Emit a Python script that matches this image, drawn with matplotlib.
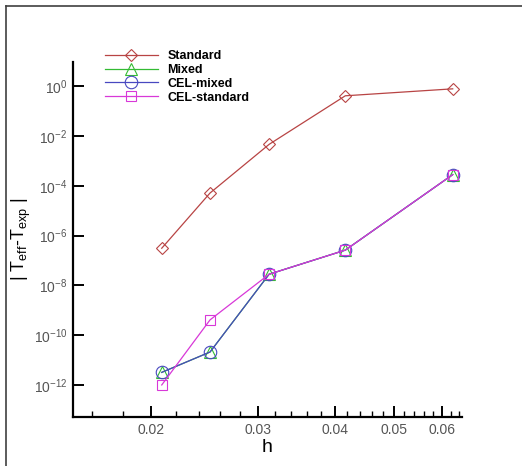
import matplotlib

matplotlib.use("Agg")
import matplotlib.pyplot as plt
from matplotlib.lines import Line2D
from matplotlib.ticker import FixedLocator, NullLocator

plt.rcParams["font.family"] = ["Liberation Sans", "DejaVu Sans"]
plt.rcParams["mathtext.fontset"] = "custom"
plt.rcParams["mathtext.rm"] = "Liberation Sans"
plt.rcParams["mathtext.it"] = "Liberation Sans"

# grid spacing h = 1/48, 1/40, 1/32, 1/24, 1/16
h = [1 / 48, 1 / 40, 1 / 32, 1 / 24, 1 / 16]

err_standard = [3.1e-7, 5.1e-5, 4.6e-3, 0.41, 0.78]
err_mixed = [3.2e-12, 2.1e-11, 2.8e-8, 2.6e-7, 2.8e-4]
err_cel_mixed = [3.2e-12, 2.1e-11, 2.8e-8, 2.6e-7, 2.8e-4]
err_cel_standard = [1.0e-12, 4.1e-10, 2.8e-8, 2.6e-7, 2.8e-4]

x_major = [0.02, 0.03, 0.04, 0.05, 0.06]
x_labels = ["0.02", "0.03", "0.04", "0.05", "0.06"]
x_minor = [i / 1000 for i in range(16, 66, 2) if i % 10 != 0]
y_exps = [0, -2, -4, -6, -8, -10, -12]

RED = "#B84444"
GREEN = "#33BB33"
BLUE = "#4848C0"
MAGENTA = "#D838D8"
TICK_GRAY = "#555555"

fig = plt.figure(figsize=(5.22, 4.66), dpi=100)
ax = fig.add_axes([0.1398, 0.105, 0.745, 0.7625])

ax.plot(h, err_standard, color=RED, lw=0.9, marker="D", ms=6.5, mfc="none",
        mec=RED, mew=0.8, label="Standard")
ax.plot(h, err_mixed, color=GREEN, lw=0.9, marker="^", ms=8, mfc="none",
        mec=GREEN, mew=0.8, label="Mixed")
ax.plot(h, err_cel_mixed, color=BLUE, lw=0.9, marker="o", ms=9, mfc="none",
        mec=BLUE, mew=0.8, label="CEL-mixed")
ax.plot(h, err_cel_standard, color=MAGENTA, lw=0.9, marker="s", ms=6.5, mfc="none",
        mec=MAGENTA, mew=0.8, label="CEL-standard")

ax.set_xscale("log")
ax.set_yscale("log")
ax.set_xlim(0.0149, 0.0647)
ax.set_ylim(10 ** -13.29, 10 ** 0.98)

ax.xaxis.set_major_locator(FixedLocator(x_major))
ax.xaxis.set_minor_locator(FixedLocator(x_minor))
ax.set_xticklabels(x_labels)
ax.xaxis.set_minor_formatter(plt.NullFormatter())

ax.set_yticks([10.0 ** e for e in y_exps])
ax.set_yticklabels([r"$10^{%d}$" % e for e in y_exps])
ax.yaxis.set_minor_locator(NullLocator())

for side in ("top", "right"):
    ax.spines[side].set_visible(False)
for side in ("left", "bottom"):
    ax.spines[side].set_linewidth(1.6)

ax.tick_params(which="major", direction="in", length=8, width=1.4,
               labelsize=10, labelcolor=TICK_GRAY, pad=4)
ax.tick_params(which="minor", direction="in", length=4, width=1.0)

ax.set_xlabel("h", fontsize=14, labelpad=2)
ax.set_ylabel(r"| T$_{eff}$-T$_{exp}$ |", fontsize=13)
ax.yaxis.set_label_coords(-0.103, 0.5)

leg = ax.legend(loc="upper left", bbox_to_anchor=(105 / 522, 1 - 50 / 466),
                bbox_transform=fig.transFigure, frameon=False, fontsize=9,
                handlelength=4.2, handletextpad=0.8, labelspacing=0.15,
                borderpad=0, borderaxespad=0)
for txt in leg.get_texts():
    txt.set_fontweight("bold")

# outer frame (only left and top edges visible)
fig.add_artist(Line2D([6 / 522, 6 / 522], [0, 1 - 6 / 466],
                      transform=fig.transFigure, color="#404040", lw=1.2))
fig.add_artist(Line2D([6 / 522, 1], [1 - 6 / 466, 1 - 6 / 466],
                      transform=fig.transFigure, color="#404040", lw=1.2))

fig.savefig("out.png", dpi=100)
